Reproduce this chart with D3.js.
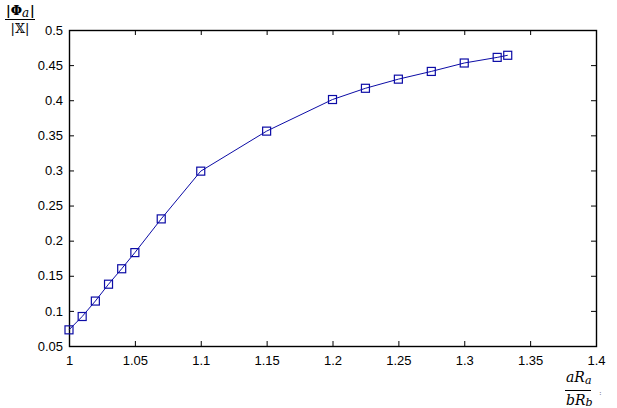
<!DOCTYPE html>
<html>
<head>
<meta charset="utf-8">
<script src="https://cdn.jsdelivr.net/npm/d3@7"></script>
<style>
  body { margin: 0; background: #fff; }
  svg { display: block; }
  .tick text { font-family: "Liberation Sans", Arial, sans-serif; font-size: 13px; fill: #000; }
  .lbl { font-family: "DejaVu Serif", "Liberation Serif", serif; font-size: 13px; fill: #000; }
</style>
</head>
<body>
<svg id="chart"></svg>
<script>
// ratio aRa/bRb
const ratios = [1, 1.01, 1.02, 1.03, 1.04, 1.05, 1.07, 1.1, 1.15, 1.2, 1.225, 1.25, 1.275, 1.3, 1.325, 1.333]
// |Phi_a| / |X|
const phiValues = [0.073, 0.092, 0.114, 0.138, 0.160, 0.183, 0.231, 0.299, 0.356, 0.401, 0.417, 0.430, 0.441, 0.453, 0.461, 0.464]
const xTicks = [1, 1.05, 1.1, 1.15, 1.2, 1.25, 1.3, 1.35, 1.4]
const yTicks = [0.05, 0.1, 0.15, 0.2, 0.25, 0.3, 0.35, 0.4, 0.45, 0.5]

const width = 617, height = 408
const mLeft = 69, mRight = 596, mTop = 30, mBottom = 346
const blue = '#0c0ca6'

const svg = d3.select('#chart')
  .attr('width', width)
  .attr('height', height)

const x = d3.scaleLinear().domain([1, 1.4]).range([mLeft, mRight])
const y = d3.scaleLinear().domain([0.05, 0.5]).range([mBottom, mTop])

const fmt = d => String(+d.toFixed(2))

// bottom axis, ticks pointing in
svg.append('g')
  .attr('transform', `translate(0,${mBottom})`)
  .call(d3.axisBottom(x).tickValues(xTicks).tickSizeInner(-5).tickSizeOuter(0).tickPadding(10).tickFormat(fmt))
  .call(g => g.select('.domain').remove())
  .call(g => g.selectAll('.tick line').attr('stroke', '#000'))

// left axis
svg.append('g')
  .attr('transform', `translate(${mLeft},0)`)
  .call(d3.axisLeft(y).tickValues(yTicks).tickSizeInner(-5).tickSizeOuter(0).tickPadding(6).tickFormat(fmt))
  .call(g => g.select('.domain').remove())
  .call(g => g.selectAll('.tick line').attr('stroke', '#000'))

// top and right ticks, no labels
svg.append('g')
  .attr('transform', `translate(0,${mTop})`)
  .call(d3.axisTop(x).tickValues(xTicks).tickSizeInner(-5).tickSizeOuter(0).tickFormat(''))
  .call(g => g.select('.domain').remove())
  .call(g => g.selectAll('.tick line').attr('stroke', '#000'))

svg.append('g')
  .attr('transform', `translate(${mRight},0)`)
  .call(d3.axisRight(y).tickValues(yTicks).tickSizeInner(-5).tickSizeOuter(0).tickFormat(''))
  .call(g => g.select('.domain').remove())
  .call(g => g.selectAll('.tick line').attr('stroke', '#000'))

// box
svg.append('rect')
  .attr('x', mLeft + 0.5).attr('y', mTop + 0.5)
  .attr('width', mRight - mLeft).attr('height', mBottom - mTop)
  .attr('fill', 'none').attr('stroke', '#000').attr('stroke-width', 1.4)

const pts = ratios.map((r, i) => [r, phiValues[i]])

svg.append('path')
  .datum(pts)
  .attr('fill', 'none')
  .attr('stroke', blue)
  .attr('stroke-width', 1)
  .attr('d', d3.line().x(d => x(d[0])).y(d => y(d[1])))

svg.selectAll('.mark')
  .data(pts)
  .enter().append('rect')
    .attr('class', 'mark')
    .attr('x', d => x(d[0]) - 4)
    .attr('y', d => y(d[1]) - 4)
    .attr('width', 8)
    .attr('height', 8)
    .attr('fill', 'none')
    .attr('stroke', blue)
    .attr('stroke-width', 1.2)

// y label |Φa| / |X|
const yl = svg.append('g')
yl.append('text').attr('class', 'lbl').attr('x', 6).attr('y', 15).style('font-weight', 'bold')
  .text('|Φ')
  .append('tspan').style('font-style', 'italic').style('font-weight', 'normal').attr('dy', 2).style('font-size', '12px').text('a')
yl.append('text').attr('class', 'lbl').attr('x', 30).attr('y', 15).style('font-weight', 'bold').text('|')
yl.append('line').attr('x1', 5).attr('x2', 35).attr('y1', 19.5).attr('y2', 19.5).attr('stroke', '#000')
yl.append('text').attr('class', 'lbl').attr('x', 20).attr('y', 33).attr('text-anchor', 'middle').text('|𝕏|')

// x label aRa / bRb
const xl = svg.append('g')
xl.append('text').attr('class', 'lbl').attr('x', 566).attr('y', 382).style('font-style', 'italic').style('font-size', '14px')
  .text('aR')
  .append('tspan').attr('dy', 2).style('font-size', '11px').text('a')
xl.append('line').attr('x1', 565).attr('x2', 591).attr('y1', 390.5).attr('y2', 390.5).attr('stroke', '#000')
xl.append('text').attr('class', 'lbl').attr('x', 566).attr('y', 405).style('font-style', 'italic').style('font-size', '14px')
  .text('bR')
  .append('tspan').attr('dy', 1).style('font-size', '11px').text('b')
xl.append('text').attr('class', 'lbl').attr('x', 599).attr('y', 395).style('font-size', '8px').style('fill', '#666').text(':')
</script>
</body>
</html>
